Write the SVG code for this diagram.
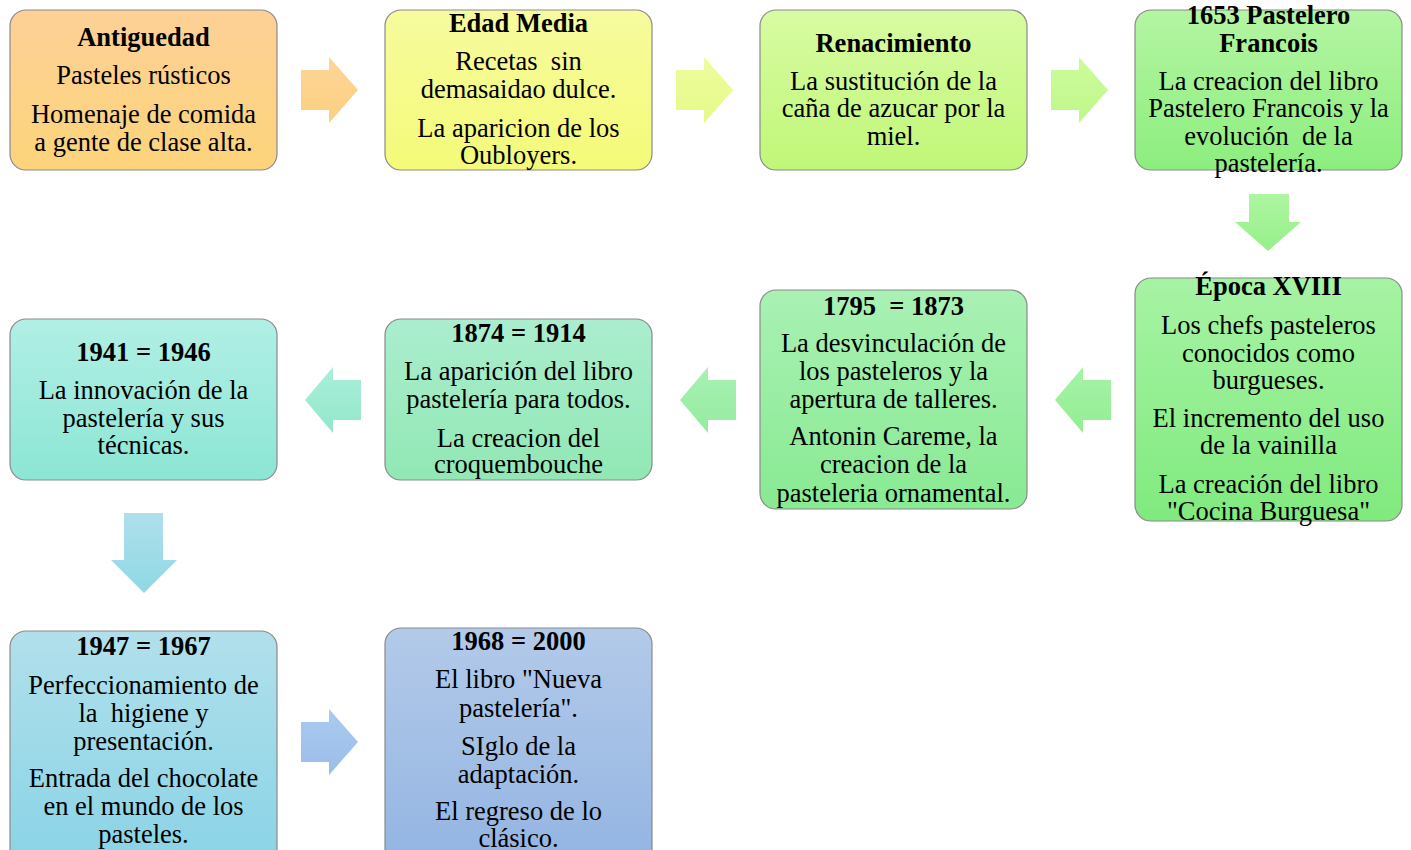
<svg xmlns="http://www.w3.org/2000/svg" width="1411" height="850" viewBox="0 0 1411 850">
<style>
.box{stroke:#8a8a8a;stroke-width:1.2}
text{font-family:"Liberation Serif","Times New Roman",serif;font-size:26.5px;fill:#000;text-anchor:middle;white-space:pre}
.t{font-weight:bold}
</style>
<defs>
<linearGradient id="g1" x1="0" y1="0" x2="0" y2="1"><stop offset="0" stop-color="#FDD097"/><stop offset="1" stop-color="#FCD47A"/></linearGradient>
<linearGradient id="g2" x1="0" y1="0" x2="0" y2="1"><stop offset="0" stop-color="#F7FB9E"/><stop offset="1" stop-color="#F4FA78"/></linearGradient>
<linearGradient id="g3" x1="0" y1="0" x2="0" y2="1"><stop offset="0" stop-color="#D8FBA2"/><stop offset="1" stop-color="#C0F778"/></linearGradient>
<linearGradient id="g4" x1="0" y1="0" x2="0" y2="1"><stop offset="0" stop-color="#B4F5A2"/><stop offset="1" stop-color="#8CEE7E"/></linearGradient>
<linearGradient id="g5" x1="0" y1="0" x2="0" y2="1"><stop offset="0" stop-color="#A7F3A4"/><stop offset="1" stop-color="#80EA7E"/></linearGradient>
<linearGradient id="g6" x1="0" y1="0" x2="0" y2="1"><stop offset="0" stop-color="#A9F1B4"/><stop offset="1" stop-color="#88EA92"/></linearGradient>
<linearGradient id="g7" x1="0" y1="0" x2="0" y2="1"><stop offset="0" stop-color="#ABEDCF"/><stop offset="1" stop-color="#91E8B4"/></linearGradient>
<linearGradient id="g8" x1="0" y1="0" x2="0" y2="1"><stop offset="0" stop-color="#B1EFE5"/><stop offset="1" stop-color="#8CE6D4"/></linearGradient>
<linearGradient id="g9" x1="0" y1="0" x2="0" y2="1"><stop offset="0" stop-color="#B1E0EB"/><stop offset="1" stop-color="#88D3E6"/></linearGradient>
<linearGradient id="g10" x1="0" y1="0" x2="0" y2="1"><stop offset="0" stop-color="#B3CAE9"/><stop offset="1" stop-color="#92B4E2"/></linearGradient>
<linearGradient id="a1" x1="0" y1="0" x2="0" y2="1"><stop offset="0" stop-color="#FDD596"/><stop offset="1" stop-color="#FCCF80"/></linearGradient>
<linearGradient id="a2" x1="0" y1="0" x2="0" y2="1"><stop offset="0" stop-color="#EEFC9C"/><stop offset="1" stop-color="#E5FA88"/></linearGradient>
<linearGradient id="a3" x1="0" y1="0" x2="0" y2="1"><stop offset="0" stop-color="#CEFB9C"/><stop offset="1" stop-color="#BEF88A"/></linearGradient>
<linearGradient id="a4" x1="0" y1="0" x2="0" y2="1"><stop offset="0" stop-color="#AEF5A2"/><stop offset="1" stop-color="#96F088"/></linearGradient>
<linearGradient id="a5" x1="0" y1="0" x2="0" y2="1"><stop offset="0" stop-color="#A6F2A8"/><stop offset="1" stop-color="#92EE92"/></linearGradient>
<linearGradient id="a6" x1="0" y1="0" x2="0" y2="1"><stop offset="0" stop-color="#A8F0B6"/><stop offset="1" stop-color="#94EC9E"/></linearGradient>
<linearGradient id="a7" x1="0" y1="0" x2="0" y2="1"><stop offset="0" stop-color="#AAEEDC"/><stop offset="1" stop-color="#92E8C8"/></linearGradient>
<linearGradient id="a8" x1="0" y1="0" x2="0" y2="1"><stop offset="0" stop-color="#AEE0EB"/><stop offset="1" stop-color="#90D8E6"/></linearGradient>
<linearGradient id="a9" x1="0" y1="0" x2="0" y2="1"><stop offset="0" stop-color="#ABCAEE"/><stop offset="1" stop-color="#9ABDEA"/></linearGradient>
</defs>
<rect width="1411" height="850" fill="#fff"/>
<g id="connectors">
<polygon fill="url(#a1)" points="301,70 329,70 329,57 358,90 329,123 329,110 301,110"/>
<polygon fill="url(#a2)" points="676,70 704,70 704,57 733,90 704,123 704,110 676,110"/>
<polygon fill="url(#a3)" points="1051,70 1079,70 1079,57 1108,90 1079,123 1079,110 1051,110"/>
<polygon fill="url(#a4)" points="1249,194 1289,194 1289,222 1301,222 1268,251 1235,222 1249,222"/>
<polygon fill="url(#a5)" points="1111,380 1083,380 1083,367 1055,400 1083,433 1083,420 1111,420"/>
<polygon fill="url(#a6)" points="736,380 708,380 708,367 680,400 708,433 708,420 736,420"/>
<polygon fill="url(#a7)" points="361,380 333,380 333,367 305,400 333,433 333,420 361,420"/>
<polygon fill="url(#a8)" points="124,513 163,513 163,560 177,560 144,593 111,560 124,560"/>
<polygon fill="url(#a9)" points="301,722 329,722 329,709 358,742 329,775 329,762 301,762"/>
</g>
<g id="n1">
<rect class="box" x="10" y="10" width="267" height="160" rx="16" fill="url(#g1)"/>
<text class="t" x="143.5" y="46">Antiguedad</text>
<text x="143.5" y="84">Pasteles rústicos</text>
<text x="143.5" y="123">Homenaje de comida</text>
<text x="143.5" y="151">a gente de clase alta.</text>
</g>
<g id="n2">
<rect class="box" x="385" y="10" width="267" height="160" rx="16" fill="url(#g2)"/>
<text class="t" x="518.5" y="32">Edad Media</text>
<text x="518.5" y="70">Recetas  sin</text>
<text x="518.5" y="98">demasaidao dulce.</text>
<text x="518.5" y="137">La aparicion de los</text>
<text x="518.5" y="164">Oubloyers.</text>
</g>
<g id="n3">
<rect class="box" x="760" y="10" width="267" height="160" rx="16" fill="url(#g3)"/>
<text class="t" x="893.5" y="52">Renacimiento</text>
<text x="893.5" y="90">La sustitución de la</text>
<text x="893.5" y="117">caña de azucar por la</text>
<text x="893.5" y="145">miel.</text>
</g>
<g id="n4">
<rect class="box" x="1135" y="10" width="267" height="160" rx="16" fill="url(#g4)"/>
<text class="t" x="1268.5" y="24">1653 Pastelero</text>
<text class="t" x="1268.5" y="52">Francois</text>
<text x="1268.5" y="90">La creacion del libro</text>
<text x="1268.5" y="117">Pastelero Francois y la</text>
<text x="1268.5" y="145">evolución  de la</text>
<text x="1268.5" y="172">pastelería.</text>
</g>
<g id="n5">
<rect class="box" x="1135" y="278" width="267" height="243" rx="16" fill="url(#g5)"/>
<text class="t" x="1268.5" y="295">Época XVIII</text>
<text x="1268.5" y="334">Los chefs pasteleros</text>
<text x="1268.5" y="362">conocidos como</text>
<text x="1268.5" y="389">burgueses.</text>
<text x="1268.5" y="427">El incremento del uso</text>
<text x="1268.5" y="454">de la vainilla</text>
<text x="1268.5" y="493">La creación del libro</text>
<text x="1268.5" y="520">"Cocina Burguesa"</text>
</g>
<g id="n6">
<rect class="box" x="760" y="290" width="267" height="219" rx="16" fill="url(#g6)"/>
<text class="t" x="893.5" y="315">1795  = 1873</text>
<text x="893.5" y="352">La desvinculación de</text>
<text x="893.5" y="380">los pasteleros y la</text>
<text x="893.5" y="408">apertura de talleres.</text>
<text x="893.5" y="445">Antonin Careme, la</text>
<text x="893.5" y="473">creacion de la</text>
<text x="893.5" y="502">pasteleria ornamental.</text>
</g>
<g id="n7">
<rect class="box" x="385" y="319" width="267" height="161" rx="16" fill="url(#g7)"/>
<text class="t" x="518.5" y="342">1874 = 1914</text>
<text x="518.5" y="380">La aparición del libro</text>
<text x="518.5" y="408">pastelería para todos.</text>
<text x="518.5" y="447">La creacion del</text>
<text x="518.5" y="473">croquembouche</text>
</g>
<g id="n8">
<rect class="box" x="10" y="319" width="267" height="161" rx="16" fill="url(#g8)"/>
<text class="t" x="143.5" y="361">1941 = 1946</text>
<text x="143.5" y="399">La innovación de la</text>
<text x="143.5" y="427">pastelería y sus</text>
<text x="143.5" y="454">técnicas.</text>
</g>
<g id="n9">
<rect class="box" x="10" y="631" width="267" height="240" rx="16" fill="url(#g9)"/>
<text class="t" x="143.5" y="655">1947 = 1967</text>
<text x="143.5" y="694">Perfeccionamiento de</text>
<text x="143.5" y="722">la  higiene y</text>
<text x="143.5" y="750">presentación.</text>
<text x="143.5" y="787">Entrada del chocolate</text>
<text x="143.5" y="815">en el mundo de los</text>
<text x="143.5" y="843">pasteles.</text>
</g>
<g id="n10">
<rect class="box" x="385" y="628" width="267" height="243" rx="16" fill="url(#g10)"/>
<text class="t" x="518.5" y="650">1968 = 2000</text>
<text x="518.5" y="688">El libro "Nueva</text>
<text x="518.5" y="717">pastelería".</text>
<text x="518.5" y="755">SIglo de la</text>
<text x="518.5" y="783">adaptación.</text>
<text x="518.5" y="820">El regreso de lo</text>
<text x="518.5" y="847">clásico.</text>
</g>
</svg>
